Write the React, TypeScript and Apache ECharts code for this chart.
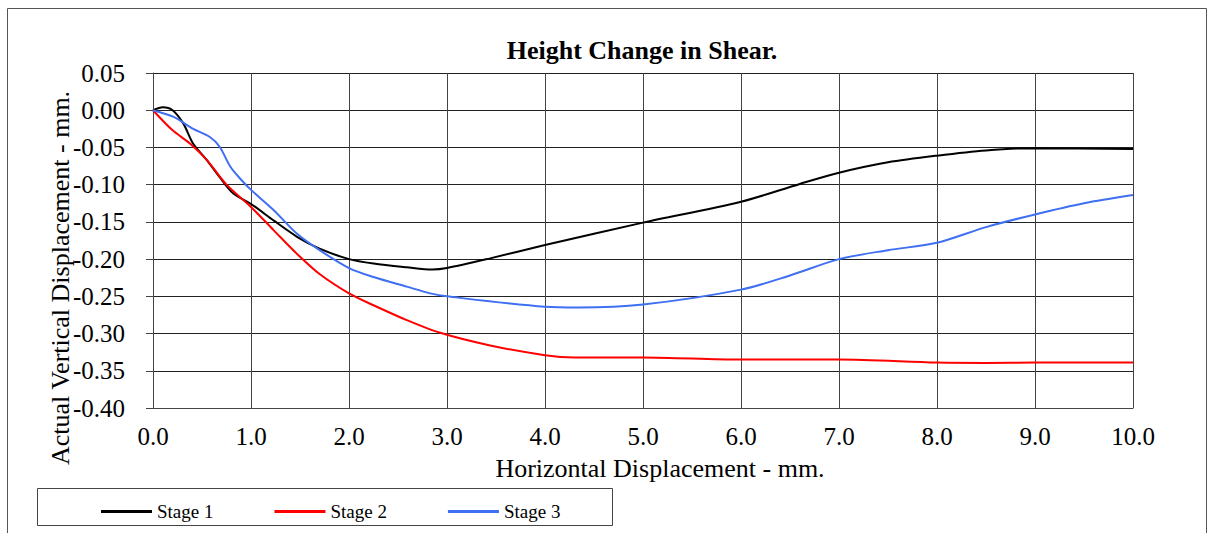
import React, { useEffect, useRef } from "react";
import * as echarts from "echarts";

const seriesNames = ["Stage 1", "Stage 2", "Stage 3"];
const seriesColors = ["#000000", "#ff0000", "#3f6ff2"];

const stage1: [number, number][] = [
  [0, 0], [0.1, 0.004], [0.2, 0.0], [0.31, -0.018], [0.41, -0.045], [0.55, -0.067],
  [0.68, -0.09], [0.82, -0.112], [1.0, -0.126], [1.23, -0.148], [1.47, -0.17],
  [1.7, -0.186], [2.0, -0.2], [2.25, -0.206], [2.59, -0.211], [2.85, -0.214],
  [3.0, -0.212], [3.44, -0.199], [4.0, -0.181], [5.0, -0.151], [6.0, -0.123],
  [6.6, -0.099], [7.0, -0.084], [7.5, -0.07], [8.0, -0.061], [8.5, -0.054],
  [9.0, -0.051], [10.0, -0.052],
];

const stage2: [number, number][] = [
  [0, 0], [0.2, -0.027], [0.38, -0.045], [0.55, -0.067], [0.75, -0.1], [1.0, -0.13],
  [1.23, -0.161], [1.47, -0.193], [1.7, -0.22], [2.0, -0.246], [2.25, -0.262],
  [2.59, -0.282], [2.93, -0.299], [3.44, -0.316], [4.0, -0.329], [4.3, -0.332],
  [5.0, -0.332], [6.0, -0.335], [7.0, -0.335], [8.0, -0.339], [8.5, -0.3395],
  [9.0, -0.339], [10.0, -0.339],
];

const stage3: [number, number][] = [
  [0, 0], [0.21, -0.009], [0.41, -0.025], [0.58, -0.036], [0.68, -0.049],
  [0.79, -0.076], [0.89, -0.092], [1.0, -0.107], [1.23, -0.134], [1.47, -0.166],
  [1.7, -0.188], [2.0, -0.212], [2.25, -0.224], [2.59, -0.237], [2.83, -0.246],
  [3.0, -0.25], [4.0, -0.264], [4.35, -0.265], [5.0, -0.261], [6.0, -0.241],
  [6.5, -0.222], [7.0, -0.2], [7.5, -0.188], [8.0, -0.178], [8.5, -0.157],
  [9.0, -0.14], [9.5, -0.125], [10.0, -0.114],
];

const allData = [stage1, stage2, stage3];

const title = "Height Change in Shear.";
const xName = "Horizontal Displacement - mm.";
const yName = "Actual Vertical Displacement - mm.";

const FONT = "Liberation Serif, serif";

export default function App() {
  const ref = useRef<HTMLDivElement>(null);
  useEffect(() => {
    if (!ref.current) return;
    const chart = echarts.init(ref.current, undefined, { renderer: "svg" });
    chart.setOption({
      animation: false,
      backgroundColor: "#ffffff",
      textStyle: { fontFamily: FONT },
      grid: { left: 153, top: 73, right: 77, bottom: 125, containLabel: false },
      xAxis: {
        type: "value",
        min: 0,
        max: 10,
        interval: 1,
        axisLine: { show: true, onZero: false, lineStyle: { color: "#444", width: 1 } },
        axisTick: { show: false },
        axisLabel: {
          formatter: (v: number) => v.toFixed(1),
          fontFamily: FONT,
          fontSize: 25,
          color: "#000",
          margin: 16,
        },
        splitLine: { show: true, lineStyle: { color: "#444", width: 1 } },
      },
      yAxis: {
        type: "value",
        min: -0.4,
        max: 0.05,
        interval: 0.05,
        axisLine: { show: true, onZero: false, lineStyle: { color: "#444", width: 1 } },
        axisTick: { show: true, inside: false, length: 7, lineStyle: { color: "#444" } },
        axisLabel: {
          formatter: (v: number) => v.toFixed(2),
          fontFamily: FONT,
          fontSize: 25,
          color: "#000",
          margin: 28,
        },
        splitLine: { show: true, lineStyle: { color: "#222", width: 1 } },
      },
      legend: {
        data: seriesNames,
        left: 96,
        top: 497,
        itemWidth: 51,
        itemHeight: 3,
        itemGap: 61,
        icon: "rect",
        textStyle: { fontFamily: FONT, fontSize: 19, color: "#000" },
      },
      graphic: [
        {
          type: "rect",
          shape: { x: 7.5, y: 8.5, width: 1199, height: 600 },
          style: { fill: "none", stroke: "#555", lineWidth: 1 },
          silent: true,
        },
        {
          type: "rect",
          shape: { x: 37.5, y: 488.5, width: 575, height: 37 },
          style: { fill: "none", stroke: "#444", lineWidth: 1 },
          silent: true,
        },
        {
          type: "text",
          x: 642,
          y: 50,
          style: {
            text: title,
            fontFamily: FONT,
            fontSize: 26,
            fontWeight: "bold",
            fill: "#000",
            align: "center",
            verticalAlign: "middle",
          },
        },
        {
          type: "text",
          x: 660,
          y: 468,
          style: {
            text: xName,
            fontFamily: FONT,
            fontSize: 26,
            fill: "#000",
            align: "center",
            verticalAlign: "middle",
          },
        },
        {
          type: "text",
          x: 60,
          y: 278,
          rotation: Math.PI / 2,
          style: {
            text: yName,
            fontFamily: FONT,
            fontSize: 26,
            fill: "#000",
            align: "center",
            verticalAlign: "middle",
          },
        },
      ],
      series: allData.map((d, i) => ({
        name: seriesNames[i],
        type: "line",
        data: d,
        smooth: 0.3,
        symbol: "none",
        lineStyle: { color: seriesColors[i], width: 2 },
        itemStyle: { color: seriesColors[i] },
      })),
    });
    return () => chart.dispose();
  }, []);
  return (
    <div
      ref={ref}
      style={{ position: "absolute", left: 0, top: 0, width: 1210, height: 533 }}
    />
  );
}
